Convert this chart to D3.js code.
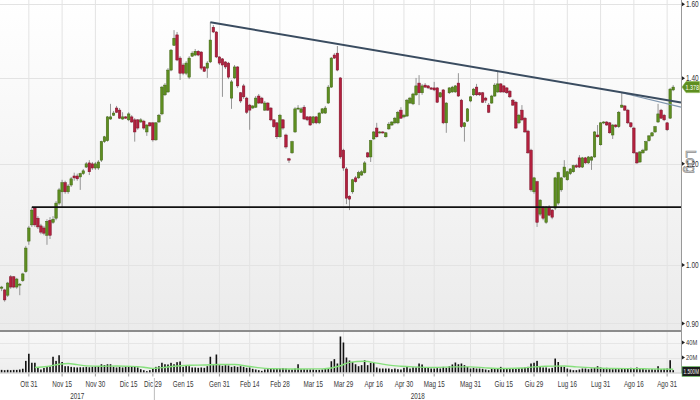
<!DOCTYPE html>
<html><head><meta charset="utf-8">
<script src="https://cdn.jsdelivr.net/npm/d3@7"></script>
<style>
body{margin:0;background:#fff}
svg{display:block}
text{font-family:'Liberation Sans',Arial,sans-serif}
</style>
</head><body>
<svg id="c" width="700" height="400"></svg>
<script>
// ---------- DATA ----------
const startDate = "2017-10-18";
const holidays = ["2017-12-25","2017-12-26","2018-01-01","2018-03-30","2018-04-02","2018-05-01","2018-08-15"];
const nDays = 223;

const open = [
.959,.956,.947,.979,.979,.961,.965,.972,.988,1.044,
1.075,1.108,1.088,1.073,1.069,1.055,1.084,1.080,1.088,1.118,
1.141,1.160,1.141,1.155,1.174,1.174,1.172,1.179,1.193,1.202,
1.200,1.191,1.191,1.208,1.249,1.251,1.301,1.310,1.327,1.322,
1.301,1.306,1.299,1.306,1.299,1.299,1.294,1.296,1.271,1.292,
1.292,1.253,1.294,1.313,1.359,1.366,1.421,1.486,1.514,1.452,
1.434,1.413,1.403,1.457,1.460,1.470,1.468,1.429,1.426,1.442,
1.535,1.522,1.455,1.450,1.442,1.439,1.351,1.401,1.429,1.364,
1.381,1.351,1.334,1.327,1.329,1.356,1.351,1.322,1.339,1.327,
1.299,1.292,1.260,1.299,1.264,1.211,1.224,1.271,1.325,1.317,
1.329,1.306,1.306,1.292,1.306,1.292,1.315,1.315,1.339,1.378,
1.460,1.465,1.401,1.230,1.189,1.132,1.141,1.170,1.170,1.176,
1.181,1.224,1.215,1.255,1.280,1.269,1.271,1.260,1.278,1.287,
1.292,1.292,1.322,1.306,1.308,1.339,1.337,1.359,1.388,1.364,
1.383,1.381,1.376,1.376,1.376,1.354,1.371,1.292,1.364,1.366,
1.366,1.388,1.346,1.283,1.296,1.344,1.359,1.378,1.364,1.364,
1.351,1.334,1.339,1.356,1.366,1.386,1.381,1.376,1.368,1.346,
1.341,1.292,1.322,1.303,1.273,1.230,1.141,1.162,1.096,1.110,
1.080,1.110,1.104,1.108,1.118,1.145,1.172,1.166,1.179,1.183,
1.196,1.213,1.193,1.213,1.202,1.208,1.215,1.264,1.242,1.292,
1.294,1.292,1.264,1.287,1.283,1.329,1.332,1.322,1.292,1.280,
1.224,1.204,1.224,1.230,1.251,1.262,1.271,1.294,1.322,1.310,
1.292,1.303,1.371];
const high = [
.963,.958,.970,.982,.980,.977,.968,.986,1.035,1.073,
1.110,1.110,1.092,1.077,1.073,1.086,1.090,1.092,1.122,1.149,
1.166,1.164,1.157,1.172,1.181,1.179,1.181,1.189,1.204,1.208,
1.204,1.204,1.208,1.251,1.262,1.308,1.337,1.320,1.332,1.327,
1.317,1.308,1.317,1.310,1.303,1.301,1.303,1.299,1.289,1.294,
1.294,1.294,1.313,1.381,1.388,1.426,1.476,1.527,1.522,1.457,
1.439,1.444,1.457,1.470,1.476,1.473,1.470,1.431,1.444,1.549,
1.541,1.524,1.457,1.452,1.444,1.442,1.396,1.434,1.431,1.366,
1.386,1.354,1.337,1.334,1.356,1.361,1.354,1.344,1.341,1.329,
1.301,1.294,1.313,1.301,1.267,1.213,1.251,1.329,1.334,1.329,
1.334,1.308,1.308,1.308,1.308,1.317,1.327,1.332,1.383,1.455,
1.465,1.484,1.403,1.233,1.193,1.134,1.168,1.174,1.185,1.187,
1.206,1.226,1.253,1.273,1.292,1.273,1.273,1.271,1.294,1.296,
1.306,1.320,1.329,1.313,1.349,1.354,1.364,1.401,1.408,1.386,
1.388,1.383,1.378,1.391,1.378,1.366,1.373,1.341,1.378,1.381,
1.383,1.413,1.349,1.294,1.327,1.356,1.376,1.386,1.366,1.366,
1.354,1.339,1.359,1.388,1.418,1.388,1.383,1.378,1.371,1.349,
1.344,1.313,1.334,1.306,1.276,1.233,1.172,1.164,1.126,1.112,
1.112,1.114,1.106,1.172,1.183,1.172,1.208,1.185,1.191,1.198,
1.200,1.219,1.215,1.215,1.217,1.217,1.273,1.287,1.294,1.296,
1.296,1.294,1.289,1.289,1.320,1.364,1.334,1.325,1.294,1.283,
1.226,1.228,1.233,1.251,1.264,1.271,1.285,1.337,1.325,1.313,
1.294,1.376,1.383];
const low = [
.954,.936,.944,.958,.959,.958,.947,.970,.986,1.037,
1.071,1.071,1.067,1.057,1.055,1.037,1.048,1.077,1.084,1.114,
1.110,1.137,1.137,1.151,1.164,1.164,1.145,1.176,1.191,1.176,
1.187,1.187,1.187,1.204,1.246,1.249,1.299,1.308,1.315,1.301,
1.299,1.301,1.296,1.292,1.249,1.276,1.292,1.276,1.262,1.283,
1.249,1.251,1.292,1.310,1.356,1.364,1.418,1.484,1.444,1.396,
1.408,1.408,1.398,1.455,1.457,1.457,1.421,1.416,1.401,1.439,
1.519,1.452,1.434,1.354,1.424,1.398,1.325,1.398,1.376,1.339,
1.349,1.313,1.276,1.325,1.327,1.337,1.337,1.320,1.320,1.296,
1.280,1.255,1.258,1.276,1.233,1.202,1.222,1.269,1.322,1.315,
1.299,1.296,1.285,1.289,1.289,1.289,1.313,1.313,1.337,1.376,
1.450,1.418,1.211,1.185,1.116,1.104,1.137,1.160,1.168,1.174,
1.179,1.213,1.204,1.253,1.258,1.267,1.267,1.258,1.276,1.285,
1.289,1.289,1.301,1.303,1.306,1.337,1.334,1.356,1.334,1.359,
1.376,1.373,1.371,1.368,1.339,1.351,1.289,1.269,1.361,1.364,
1.364,1.354,1.280,1.249,1.294,1.341,1.356,1.356,1.356,1.339,
1.339,1.315,1.337,1.354,1.364,1.364,1.364,1.361,1.351,1.332,
1.278,1.289,1.296,1.269,1.222,1.141,1.137,1.071,1.092,1.084,
1.077,1.092,1.086,1.104,1.114,1.141,1.170,1.164,1.176,1.181,
1.191,1.191,1.191,1.200,1.200,1.187,1.213,1.258,1.240,1.289,
1.285,1.267,1.255,1.280,1.280,1.327,1.320,1.289,1.280,1.222,
1.200,1.202,1.222,1.228,1.249,1.260,1.269,1.292,1.301,1.296,
1.273,1.301,1.368];
const close = [
.961,.939,.968,.961,.961,.975,.966,.984,1.031,1.069,
1.104,1.075,1.071,1.061,1.059,1.082,1.055,1.086,1.118,1.145,
1.160,1.141,1.153,1.168,1.170,1.168,1.179,1.185,1.200,1.183,
1.191,1.200,1.204,1.249,1.260,1.306,1.306,1.315,1.317,1.303,
1.306,1.303,1.313,1.294,1.271,1.280,1.299,1.280,1.287,1.285,
1.253,1.292,1.310,1.378,1.383,1.421,1.473,1.505,1.447,1.413,
1.413,1.439,1.452,1.465,1.470,1.460,1.426,1.418,1.439,1.500,
1.522,1.455,1.439,1.434,1.429,1.403,1.391,1.429,1.381,1.344,
1.354,1.317,1.322,1.332,1.351,1.339,1.339,1.339,1.322,1.299,
1.283,1.260,1.310,1.280,1.237,1.208,1.249,1.325,1.327,1.325,
1.301,1.299,1.287,1.306,1.292,1.315,1.325,1.327,1.378,1.452,
1.452,1.421,1.215,1.191,1.128,1.126,1.166,1.162,1.181,1.183,
1.202,1.215,1.251,1.271,1.260,1.271,1.269,1.269,1.289,1.294,
1.303,1.317,1.303,1.310,1.346,1.351,1.361,1.381,1.364,1.381,
1.378,1.376,1.373,1.371,1.341,1.364,1.292,1.339,1.376,1.378,
1.381,1.356,1.283,1.292,1.325,1.354,1.373,1.359,1.359,1.341,
1.346,1.317,1.356,1.383,1.386,1.366,1.366,1.364,1.354,1.334,
1.280,1.310,1.299,1.271,1.224,1.145,1.170,1.080,1.124,1.088,
1.110,1.094,1.090,1.170,1.181,1.170,1.193,1.183,1.189,1.196,
1.193,1.193,1.213,1.202,1.215,1.215,1.271,1.260,1.292,1.294,
1.287,1.269,1.287,1.283,1.317,1.334,1.322,1.292,1.283,1.224,
1.202,1.226,1.230,1.249,1.262,1.269,1.283,1.313,1.303,1.299,
1.276,1.373,1.378];
// volume, millions of shares
const volume = [
3.5,3.1,3.5,3.1,3.5,3.5,4,5,15.5,25,
13,13,6,4,6,7.5,8,21,15.5,23,
14,8.4,8.4,7.5,7,6.7,7,7,7.5,7,
7.5,8,8.4,11,10,11,11,7.5,6.7,7.5,
6.7,7.5,7.5,8.4,8.4,6.7,4.4,3.1,1.8,3.1,
5.3,7.5,8.4,13,11,10.7,12.9,11,13.8,14.7,
7.5,9.8,8.4,6.7,6.7,6.2,6.7,6.2,8.4,21,
9.8,24,9.8,8.9,9.8,9.3,7.5,8.4,7.5,8.4,
7.5,6.2,6.7,4.9,4,3.1,2.2,4,4.4,5.3,
4.4,4.9,5.3,5.8,5.3,4,4,5.3,11,4.4,
4.4,4,4,4,3.5,3.5,4,5.3,5.3,15,
17.8,12,48,40,20,16,14,11,8.4,9.8,
16.4,9.8,13,13,6.7,5.3,5.3,5.3,5.3,4.4,
5.3,4.4,4,6.2,7.5,5.3,6.7,6.7,12,10.7,
6.2,6.2,5.3,5.3,5.8,5.3,7.5,6.2,8.4,10.7,
13.3,11,12,9.8,7.5,5.3,6.2,5.3,5.3,4.9,
4,3.1,4.9,5.3,5.8,7.5,5.3,5.8,5.8,5.3,
5.3,5.8,5.8,6.7,7.5,12,13,15.5,8.4,6.7,
6.7,5.3,6.2,18.6,14,8,7.5,5.3,4,3.1,
3.1,4,5.3,5.3,4.4,5.3,6.2,8.4,6.7,5.3,
6.2,5.3,4.4,5.3,4.4,5.3,5.3,5.8,6.2,5.3,
6.7,4.9,4.9,4,4,4.4,4,8.4,4.4,4.9,
5.3,16.4,3.1];
// volume moving average, read at selected trading days (index into the day list)
const maIndex = [11,15,19,22,25,28,33,38,43,47,50,53,57,62,67,72,77,82,87,92,97,102,106,109,112,115,120,124,128,132,136,143,150,155,160,166,172,176,180,186,190,196,202,208,214,222];
const maValue = [6.7,8,11,12,10.5,8.8,8.4,8.6,8.2,7,5.5,6.5,8.4,9.6,10,10.7,10.6,8,5.5,4.9,4.6,4.9,4.9,6,9,13.5,15,12.5,9.8,8.4,7.5,6.7,7.5,7.5,6.2,5.3,6,7.5,8.4,8.6,7.5,6.2,5.3,5.1,4.9,4.4];

const priceTicks = [1.6,1.4,1.2,1.0,0.9];
const priceTickLabels = ["1.60","1.40","1.20","1.00","0.90"];
const volTicks = [20,40];
const volTickLabels = ["20M","40M"];
const dateTicks = ["2017-10-31","2017-11-15","2017-11-30","2017-12-15","2017-12-29","2018-01-15","2018-01-31","2018-02-14","2018-02-28","2018-03-15","2018-03-29","2018-04-16","2018-04-30","2018-05-15","2018-05-31","2018-06-15","2018-06-29","2018-07-16","2018-07-31","2018-08-16","2018-08-31"];
const dateTickLabels = ["Ott 31","Nov 15","Nov 30","Dic 15","Dic 29","Gen 15","Gen 31","Feb 14","Feb 28","Mar 15","Mar 29","Apr 16","Apr 30","Mag 15","Mag 31","Giu 15","Giu 29","Lug 16","Lug 31","Ago 16","Ago 31"];
const years = ["2017","2018"];

const supportLevel = 1.110, supportStart = 10;
const resistance = [[69,1.549],[164,1.418]];
const resistance2 = [[205,1.364],[219,1.339]];
const lastPriceLabel = "1.378";
const lastVolumeLabel = "1.500M";

// ---------- BUILD ----------
const dates = [];
{
  let d = new Date(startDate + "T00:00:00Z");
  while (dates.length < nDays) {
    const s = d.toISOString().slice(0,10), wd = d.getUTCDay();
    if (wd !== 0 && wd !== 6 && !holidays.includes(s)) dates.push(s);
    d.setUTCDate(d.getUTCDate() + 1);
  }
}
const candles = dates.map((dt,i)=>({date:dt,o:open[i],h:high[i],l:low[i],c:close[i],v:volume[i]}));

const plotR = 681, mainBot = 330, volBot = 372.5;
const x = d3.scaleBand().domain(dates).range([0.09, 674.7]).padding(0);
const cx = d => x(d) + x.bandwidth()/2;
const y = d3.scaleLog().domain([0.8894, 1.6123]).range([mainBot, 0]);
const yv = d3.scaleLinear().domain([0, 50]).range([volBot, 335]);

const svg = d3.select("#c");
const defs = svg.append("defs");
const g1 = defs.append("linearGradient").attr("id","gMain").attr("x1",0).attr("y1",0).attr("x2",0).attr("y2",1);
g1.append("stop").attr("offset","0%").attr("stop-color","#ffffff");
g1.append("stop").attr("offset","100%").attr("stop-color","#ebebeb");
const g2 = defs.append("linearGradient").attr("id","gVol").attr("x1",0).attr("y1",0).attr("x2",0).attr("y2",1);
g2.append("stop").attr("offset","0%").attr("stop-color","#f8f8f8");
g2.append("stop").attr("offset","100%").attr("stop-color","#eeeeee");

svg.append("rect").attr("x",0).attr("y",0).attr("width",plotR).attr("height",mainBot).attr("fill","url(#gMain)");
svg.append("rect").attr("x",0).attr("y",332).attr("width",plotR).attr("height",volBot-332).attr("fill","url(#gVol)");

// condensed text helper
function ctext(g, X, Y, str, size, anchor, sx){
  return g.append("text").attr("transform",`translate(${X},${Y}) scale(${sx},1)`)
    .attr("dy","0.35em").attr("text-anchor",anchor).attr("font-size",size).text(str);
}

// grid
const grid = svg.append("g");
grid.selectAll("line.v").data(dateTicks).join("line")
  .attr("x1",d=>cx(d)).attr("x2",d=>cx(d)).attr("y1",0).attr("y2",volBot)
  .attr("stroke","#e3e3e3").attr("stroke-width",1);
grid.selectAll("line.h").data(priceTicks).join("line")
  .attr("x1",0).attr("x2",plotR).attr("y1",d=>Math.round(y(d))+0.5).attr("y2",d=>Math.round(y(d))+0.5)
  .attr("stroke","#e3e3e3");
grid.selectAll("line.hv").data(volTicks).join("line")
  .attr("x1",0).attr("x2",plotR).attr("y1",d=>Math.round(yv(d))+0.5).attr("y2",d=>Math.round(yv(d))+0.5)
  .attr("stroke","#e6e6e6");

// candles
const cg = svg.append("g");
cg.selectAll("line").data(candles).join("line")
  .attr("x1",d=>cx(d.date)).attr("x2",d=>cx(d.date))
  .attr("y1",d=>y(d.h)).attr("y2",d=>y(d.l))
  .attr("stroke","#8a8a8a").attr("stroke-width",0.9);
cg.selectAll("rect").data(candles).join("rect")
  .attr("x",d=>cx(d.date)-1.25).attr("width",2.5)
  .attr("y",d=>y(Math.max(d.o,d.c)))
  .attr("height",d=>Math.max(1,Math.abs(y(d.o)-y(d.c))))
  .attr("fill",d=>d.c>=d.o?"#5e8e20":"#b3203e")
  .attr("stroke",d=>d.c>=d.o?"#3e6412":"#7c1128").attr("stroke-width",0.5);

// support line
svg.append("line").attr("x1",cx(dates[supportStart])).attr("x2",plotR)
  .attr("y1",y(supportLevel)).attr("y2",y(supportLevel))
  .attr("stroke","#111").attr("stroke-width",1.6);

// trend lines
function trend(pts,color,w){
  const p1=[cx(dates[pts[0][0]]),y(pts[0][1])], p2=[cx(dates[pts[1][0]]),y(pts[1][1])];
  const s=(p2[1]-p1[1])/(p2[0]-p1[0]);
  svg.append("line").attr("x1",p1[0]).attr("y1",p1[1]).attr("x2",plotR).attr("y2",p1[1]+(plotR-p1[0])*s)
    .attr("stroke",color).attr("stroke-width",w);
}
trend(resistance2,"#7e95ad",1.2);
trend(resistance,"#3a4c60",2);

// panel separator
svg.append("line").attr("x1",0).attr("x2",plotR).attr("y1",331).attr("y2",331).attr("stroke","#8c8c8c").attr("stroke-width",2);

// volume bars
svg.append("g").selectAll("rect").data(candles).join("rect")
  .attr("x",d=>cx(d.date)-0.8).attr("width",1.6)
  .attr("y",d=>yv(d.v)).attr("height",d=>volBot-yv(d.v)).attr("fill","#111");
// volume MA
svg.append("path").datum(maIndex.map((k,j)=>[cx(dates[k]),yv(maValue[j])]))
  .attr("d",d3.line().curve(d3.curveMonotoneX))
  .attr("fill","none").attr("stroke","#86e07c").attr("stroke-width",1.4);

// axes lines
svg.append("line").attr("x1",plotR+0.5).attr("x2",plotR+0.5).attr("y1",0).attr("y2",volBot+1).attr("stroke","#999");
svg.append("line").attr("x1",0).attr("x2",plotR).attr("y1",volBot+0.5).attr("y2",volBot+0.5).attr("stroke","#c4c4c4");

// Log label (drawn first so tick labels sit on top)
svg.append("text").attr("transform","translate(686,150) rotate(90)")
  .attr("font-size",14).attr("fill","#f0f0f0").attr("stroke","#8f8f8f").attr("stroke-width",0.7)
  .attr("font-family","DejaVu Sans, sans-serif").text("Log");

// right axis ticks/labels
const ra = svg.append("g").attr("fill","#333");
ra.selectAll("path").data(priceTicks).join("path")
  .attr("d",d=>{const yy=y(d);return `M${plotR+1},${yy-2}L${plotR+4},${yy}L${plotR+1},${yy+2}Z`;}).attr("fill","#222");
priceTicks.forEach((t,i)=>ctext(ra, plotR+5, y(t), priceTickLabels[i], 9, "start", 0.72));
const va = svg.append("g").attr("fill","#333");
va.selectAll("path").data(volTicks).join("path")
  .attr("d",d=>{const yy=yv(d);return `M${plotR+1},${yy-2}L${plotR+4},${yy}L${plotR+1},${yy+2}Z`;}).attr("fill","#222");
volTicks.forEach((t,i)=>ctext(va, plotR+5, yv(t), volTickLabels[i], 8, "start", 0.72));

// last price box
{
  const yy = y(close[nDays-1]);
  svg.append("path").attr("d",`M${plotR+1},${yy}L${plotR+5},${yy-5.5}L699.5,${yy-5.5}L699.5,${yy+5.5}L${plotR+5},${yy+5.5}Z`)
    .attr("fill","#5e8e20").attr("stroke","#7fb040").attr("stroke-width",0.6);
  ctext(svg.append("g").attr("fill","#fff"), 692.3, yy, lastPriceLabel, 8, "middle", 0.68);
}
// last volume box
{
  svg.append("rect").attr("x",plotR+1).attr("y",366.5).attr("width",18.5).attr("height",10)
    .attr("fill","#1c1c1c").attr("stroke","#7ad070").attr("stroke-width",0.7);
  ctext(svg.append("g").attr("fill","#fff"), 691.3, 371.5, lastVolumeLabel, 7.5, "middle", 0.62);
}

// bottom axis
const ba = svg.append("g").attr("fill","#3a3a3a");
ba.selectAll("line").data(dateTicks).join("line")
  .attr("x1",d=>cx(d)).attr("x2",d=>cx(d)).attr("y1",volBot+1).attr("y2",volBot+4).attr("stroke","#999");
dateTicks.forEach((d,i)=>ctext(ba, cx(d), 383.5, dateTickLabels[i], 9, "middle", 0.7));
// year separator
const lastOfFirst = dates.filter(d=>d.startsWith(years[0])).pop();
const firstOfSecond = dates.find(d=>d.startsWith(years[1]));
const sepX = (cx(lastOfFirst)+cx(firstOfSecond))/2;
svg.append("line").attr("x1",sepX).attr("x2",sepX).attr("y1",378).attr("y2",400).attr("stroke","#bbb");
ctext(ba, sepX/2, 395.5, years[0], 9, "middle", 0.7);
ctext(ba, (sepX+plotR)/2, 395.5, years[1], 9, "middle", 0.7);
</script>
</body></html>
